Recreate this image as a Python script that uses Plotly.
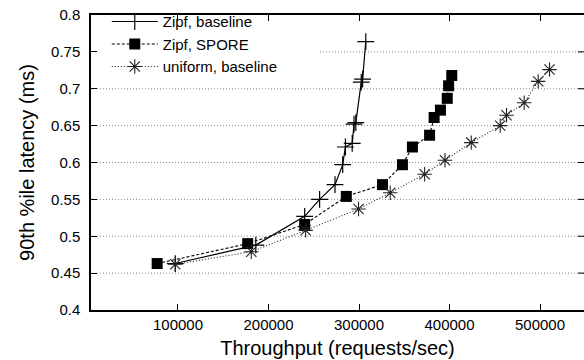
import plotly.graph_objects as go

# ---- data ----
zipf_base_x = [97000, 186000, 240000, 256500, 273500, 282000, 285000, 292500, 294500, 296500, 302500, 304000, 307500]
zipf_base_y = [0.463, 0.488, 0.527, 0.550, 0.570, 0.597, 0.621, 0.626, 0.652, 0.654, 0.709, 0.713, 0.764]

zipf_spore_x = [77000, 177000, 240000, 286000, 326000, 348000, 359000, 378000, 383000, 390000, 397500, 399000, 402500]
zipf_spore_y = [0.463, 0.490, 0.516, 0.554, 0.570, 0.597, 0.621, 0.637, 0.661, 0.671, 0.687, 0.704, 0.718]

uniform_x = [97000, 181000, 241000, 299500, 334500, 372500, 395000, 424000, 456000, 463000, 482500, 498000, 510500]
uniform_y = [0.462, 0.479, 0.508, 0.537, 0.559, 0.584, 0.603, 0.627, 0.650, 0.664, 0.681, 0.710, 0.726]

x_ticks = [100000, 200000, 300000, 400000, 500000]
x_tick_text = ["100000", "200000", "300000", "400000", "500000"]
y_ticks = [0.4, 0.45, 0.5, 0.55, 0.6, 0.65, 0.7, 0.75, 0.8]
y_tick_text = ["0.4", "0.45", "0.5", "0.55", "0.6", "0.65", "0.7", "0.75", "0.8"]
grid_y = [0.45, 0.5, 0.55, 0.6, 0.65, 0.7, 0.75]

X_RANGE = [3900, 548600]
Y_RANGE = [0.4, 0.8]

FONT = "Liberation Sans, Arial, Helvetica, sans-serif"

fig = go.Figure()

fig.add_trace(go.Scatter(
    x=zipf_base_x, y=zipf_base_y, mode="lines+markers", name="Zipf, baseline",
    line=dict(color="black", width=1.2),
    marker=dict(symbol="cross-thin-open", size=12, color="black", line=dict(color="black", width=1.2)),
))
fig.add_trace(go.Scatter(
    x=zipf_spore_x, y=zipf_spore_y, mode="lines+markers", name="Zipf, SPORE",
    line=dict(color="black", width=1.1, dash="3px,2px"),
    marker=dict(symbol="square", size=11, color="black", line=dict(color="black", width=0)),
))
fig.add_trace(go.Scatter(
    x=uniform_x, y=uniform_y, mode="lines+markers", name="uniform, baseline",
    line=dict(color="#222", width=1.1, dash="1px,2px"),
    marker=dict(symbol="asterisk-open", size=12, color="#222", line=dict(color="#222", width=1.1)),
))

shapes = []
# dotted horizontal grid lines (the 0.75 line is hidden behind the legend box)
plot_left_px, plot_w_px = 91, 493
for gy in grid_y:
    x0 = 0.0
    if gy == 0.75:
        x0 = (320 - plot_left_px) / plot_w_px
    shapes.append(dict(type="line", xref="paper", yref="y", x0=x0, x1=1, y0=gy, y1=gy,
                       line=dict(color="#8a8a8a", width=1, dash="1px,2px"), layer="below"))
# right-side inward y ticks (right border itself lies outside the picture)
for ty in y_ticks[1:-1]:
    shapes.append(dict(type="line", xref="paper", yref="y", xsizemode="pixel", xanchor=1,
                       x0=-6, x1=0, y0=ty, y1=ty, line=dict(color="black", width=1)))

fig.update_layout(
    width=584, height=360,
    margin=dict(l=91, r=0, t=15, b=50),
    paper_bgcolor="white", plot_bgcolor="white",
    font=dict(family=FONT, size=15, color="black"),
    showlegend=True,
    legend=dict(x=0.032, y=1.033, xanchor="left", yanchor="top",
                bgcolor="rgba(0,0,0,0)", font=dict(size=15, family=FONT),
                itemwidth=46, tracegroupgap=0),
    shapes=shapes,
    xaxis=dict(range=X_RANGE, tickvals=x_ticks, ticktext=x_tick_text,
               showgrid=False, zeroline=False, showline=True, linecolor="black", linewidth=1.5,
               mirror="ticks", ticks="inside", ticklen=6, tickwidth=1, tickcolor="black",
               tickfont=dict(size=15),
               title=dict(text="Throughput (requests/sec)", font=dict(size=20), standoff=9)),
    yaxis=dict(range=Y_RANGE, tickvals=y_ticks, ticktext=y_tick_text,
               showgrid=False, zeroline=False, showline=True, linecolor="black", linewidth=1.5,
               mirror=False, ticks="inside", ticklen=6, tickwidth=1, tickcolor="black",
               tickfont=dict(size=15), ticklabelstandoff=6,
               title=dict(text="90th %ile latency (ms)", font=dict(size=20), standoff=11)),
)

fig.write_html("out.html")
